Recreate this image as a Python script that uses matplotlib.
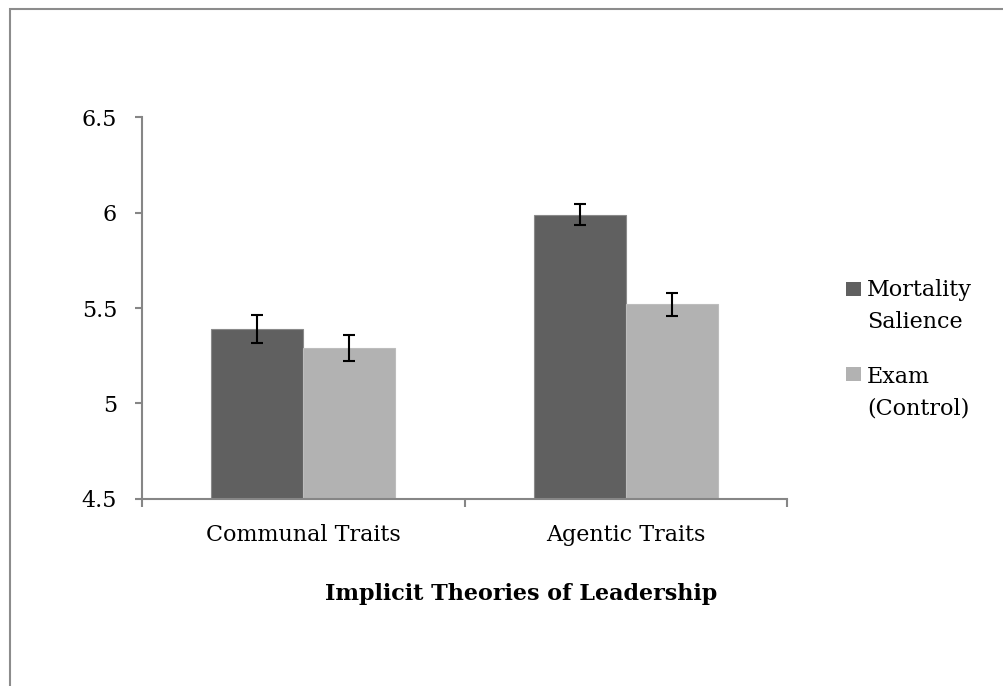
import numpy as np
import matplotlib
matplotlib.use('Agg')
import matplotlib.pyplot as plt
from matplotlib.patches import Rectangle

categories = ['Communal Traits', 'Agentic Traits']
series_names = ['Mortality\nSalience', 'Exam\n(Control)']
series_colors = ['#606060', '#b2b2b2']
mortality = [5.39, 5.99]
exam = [5.29, 5.52]
mortality_err = [0.072, 0.055]
exam_err = [0.068, 0.06]
y_ticks = [4.5, 5, 5.5, 6, 6.5]
y_labels = ['4.5', '5', '5.5', '6', '6.5']

plt.rcParams['font.family'] = ['DejaVu Serif']
axis_col = '#868686'
W, H = 1004, 686
fs = 16

fig = plt.figure(figsize=(W / 100, H / 100), dpi=100)
# chart border, cut off at right and bottom like the original crop
fig.patches.append(Rectangle((10 / W, -0.1), 1.2, 1 - 9 / H + 0.1,
                             transform=fig.transFigure, fill=False,
                             edgecolor='#8c8c8c', linewidth=1.5))

ax = fig.add_axes([142 / W, 1 - 498.7 / H, (787 - 142) / W, (498.7 - 117.3) / H])

x = np.arange(len(categories))
w = 0.285
ax.bar(x - w / 2, np.array(mortality) - 4.5, w, bottom=4.5, color=series_colors[0],
       edgecolor='#8a8a8a', linewidth=0.8)
ax.bar(x + w / 2, np.array(exam) - 4.5, w, bottom=4.5, color=series_colors[1],
       edgecolor='#bdbdbd', linewidth=0.8)
ax.errorbar(x - w / 2, mortality, yerr=mortality_err, fmt='none', ecolor='black',
            elinewidth=1.5, capsize=4.6, capthick=1.5)
ax.errorbar(x + w / 2, exam, yerr=exam_err, fmt='none', ecolor='black',
            elinewidth=1.5, capsize=4.6, capthick=1.5)

ax.set_xlim(-0.5, 1.5)
ax.set_ylim(4.5, 6.5)
ax.set_yticks(y_ticks)
ax.set_yticklabels(y_labels)
ax.set_xticks([-0.5, 0.5, 1.5])
ax.set_xticklabels([])
ax.set_xticks(x, minor=True)
ax.set_xticklabels(categories, minor=True)
ax.tick_params(axis='x', which='minor', length=0, pad=18, labelsize=fs)
ax.tick_params(axis='x', which='major', length=6, width=1.5, color=axis_col, direction='out')
ax.tick_params(axis='y', length=5, width=1.5, color=axis_col, labelsize=fs, pad=13)

for s in ['top', 'right']:
    ax.spines[s].set_visible(False)
for s in ['left', 'bottom']:
    ax.spines[s].set_color(axis_col)
    ax.spines[s].set_linewidth(1.5)

ax.set_xlabel('Implicit Theories of Leadership', fontsize=fs, fontweight='bold')
ax.xaxis.set_label_coords((521 - 142) / 645, -(600 - 498.7) / 381.4)
ax.xaxis.label.set_verticalalignment('baseline')

# legend: square aligned with the first line of each two-line label
leg_tops = [281.7, 366.7]
leg_last_base = [328, 414.5]
for name, col, top, base in zip(series_names, series_colors, leg_tops, leg_last_base):
    fig.patches.append(Rectangle((846 / W, 1 - (top + 14.5) / H), 15 / W, 14.5 / H,
                                 transform=fig.transFigure, facecolor=col,
                                 edgecolor='none'))
    fig.text(867 / W, 1 - base / H, name, fontsize=fs, va='baseline',
             ha='left', linespacing=1.58)

fig.savefig('out.png', dpi=100)
